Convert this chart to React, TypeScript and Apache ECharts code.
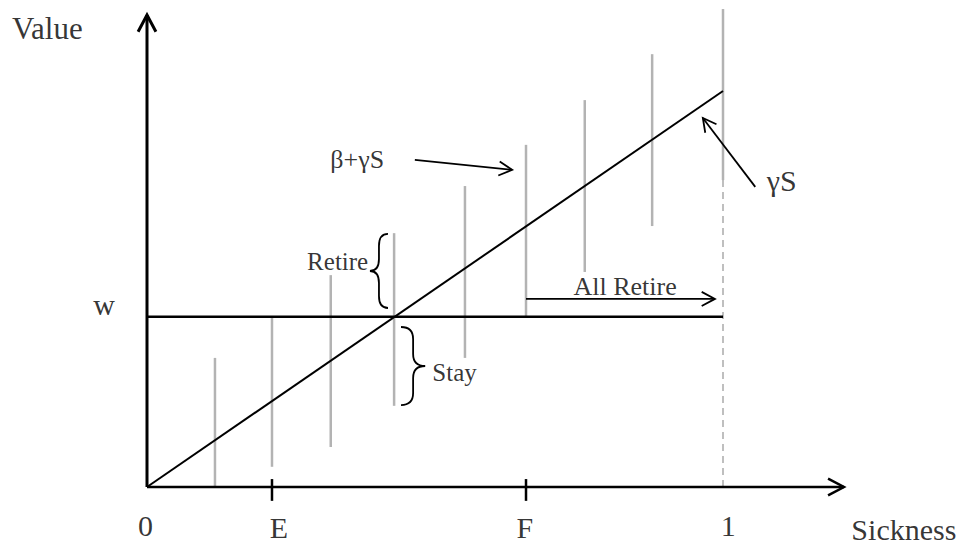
import React, { useEffect, useRef } from "react";
import * as echarts from "echarts";

// ---- data (x: sickness 0..1, y: value where γS at S=1 equals 100) ----
const E_POS = 0.217;
const F_POS = 0.658;
const W_LEVEL = 43;

const diagonalX = [0, 1];
const diagonalY = [0, 100];

const wLineX = [0, 1];

const barX = [0.118, E_POS, 0.319, 0.429, 0.552, F_POS, 0.76, 0.877, 1];
const barLow = [0, 5.1, 10.1, 20.5, 32.6, W_LEVEL, 54.3, 65.9, 77.5];
const barHigh = [32.6, W_LEVEL, 53.5, 64.1, 76, 86.4, 97.7, 109.3, 120.7];

const xTickValues = [E_POS, F_POS];
const tickTop = 2.0;
const tickBottom = -3.5;

const yAxisArrow = [[0, 0, 0, 119.2]];
const xAxisArrow = [[0, 0, 1.21, 0]];
const noteArrows = [
  [0.465, 82.6, 0.634, 80.1],
  [1.056, 75.8, 0.965, 93.2],
  [0.658, 47.5, 0.986, 47.5],
];

// braces: [x of ends, x of tip, y top, y bottom]
const braces = [
  [0.4184, 0.387, 63.9, 45.2],
  [0.441, 0.483, 40.4, 20.7],
];

const labelText = ["Value", "w", "0", "E", "F", "1", "Sickness", "β+γS", "γS", "Retire", "Stay", "All Retire"];
const labelX = [-0.173, -0.0747, -0.0026, 0.229, 0.656, 1.009, 1.314, 0.365, 1.102, 0.331, 0.534, 0.83];
const labelY = [115.8, 46.0, -9.6, -10.2, -10.2, -9.6, -10.8, 82.8, 77.5, 56.9, 29.0, 50.6];

// ---- layout ----
const ORIGIN_X = 147;
const ORIGIN_Y = 487;
const PX_PER_X = 576;
const PX_PER_Y = 3.96;
const X_MIN = -0.25;
const X_MAX = 1.4;
const Y_MIN = -14;
const Y_MAX = 122;
const WIDTH = 962;
const HEIGHT = 546;

const FONT = "'Liberation Serif', 'Times New Roman', serif";
const GRAY = "#b3b3b3";

const fontSizes: Record<string, number> = {
  Value: 31,
  w: 30,
  "0": 30,
  E: 30,
  F: 30,
  "1": 30,
  Sickness: 30,
  "β+γS": 26,
  "γS": 30,
  Retire: 25,
  Stay: 25,
  "All Retire": 26,
};

function arrowSeries(data: number[][], lineWidth: number, head: number, z: number) {
  return {
    type: "custom",
    z,
    silent: true,
    data,
    renderItem: (_params: any, api: any) => {
      const p1 = api.coord([api.value(0), api.value(1)]);
      const p2 = api.coord([api.value(2), api.value(3)]);
      const ang = Math.atan2(p2[1] - p1[1], p2[0] - p1[0]);
      const th = (28 * Math.PI) / 180;
      const a1 = [p2[0] - head * Math.cos(ang - th), p2[1] - head * Math.sin(ang - th)];
      const a2 = [p2[0] - head * Math.cos(ang + th), p2[1] - head * Math.sin(ang + th)];
      return {
        type: "group",
        children: [
          {
            type: "line",
            shape: { x1: p1[0], y1: p1[1], x2: p2[0], y2: p2[1] },
            style: { stroke: "#000", lineWidth },
          },
          {
            type: "polyline",
            shape: { points: [a1, p2, a2] },
            style: { stroke: "#000", lineWidth, fill: "none" },
          },
        ],
      };
    },
  };
}

export default function App() {
  const ref = useRef<HTMLDivElement>(null);

  useEffect(() => {
    if (!ref.current) return;
    const chart = echarts.init(ref.current, undefined, { renderer: "svg" });

    const gridLeft = ORIGIN_X + X_MIN * PX_PER_X;
    const gridRight = WIDTH - (ORIGIN_X + X_MAX * PX_PER_X);
    const gridTop = ORIGIN_Y - Y_MAX * PX_PER_Y;
    const gridBottom = HEIGHT - (ORIGIN_Y - Y_MIN * PX_PER_Y);

    const hiddenAxis = {
      type: "value" as const,
      axisLine: { show: false },
      axisTick: { show: false },
      axisLabel: { show: false },
      splitLine: { show: false },
    };

    const option: any = {
      animation: false,
      backgroundColor: "#fff",
      grid: { left: gridLeft, right: gridRight, top: gridTop, bottom: gridBottom },
      xAxis: { ...hiddenAxis, min: X_MIN, max: X_MAX },
      yAxis: { ...hiddenAxis, min: Y_MIN, max: Y_MAX },
      series: [
        {
          type: "custom",
          name: "bars",
          z: 1,
          silent: true,
          data: barX.map((x, i) => [x, barLow[i], barHigh[i]]),
          renderItem: (_p: any, api: any) => {
            const a = api.coord([api.value(0), api.value(1)]);
            const b = api.coord([api.value(0), api.value(2)]);
            return {
              type: "line",
              shape: { x1: a[0], y1: a[1], x2: b[0], y2: b[1] },
              style: { stroke: GRAY, lineWidth: 2.5 },
            };
          },
        },
        {
          type: "line",
          z: 2,
          silent: true,
          symbol: "none",
          data: [
            [1, 0],
            [1, barLow[barLow.length - 1]],
          ],
          lineStyle: { color: "#aaaaaa", width: 1.5, type: [7, 5] },
        },
        {
          type: "line",
          z: 3,
          silent: true,
          symbol: "none",
          data: diagonalX.map((x, i) => [x, diagonalY[i]]),
          lineStyle: { color: "#000", width: 2 },
        },
        {
          type: "line",
          z: 3,
          silent: true,
          symbol: "none",
          data: wLineX.map((x) => [x, W_LEVEL]),
          lineStyle: { color: "#000", width: 2.5 },
        },
        arrowSeries(yAxisArrow, 3, 19, 4),
        arrowSeries(xAxisArrow, 2.5, 18, 4),
        arrowSeries(noteArrows, 1.8, 15, 4),
        {
          type: "custom",
          z: 4,
          silent: true,
          data: xTickValues.map((x) => [x, tickTop, tickBottom]),
          renderItem: (_p: any, api: any) => {
            const a = api.coord([api.value(0), api.value(1)]);
            const b = api.coord([api.value(0), api.value(2)]);
            return {
              type: "line",
              shape: { x1: a[0], y1: a[1], x2: b[0], y2: b[1] },
              style: { stroke: "#000", lineWidth: 2.5 },
            };
          },
        },
        {
          type: "custom",
          z: 4,
          silent: true,
          data: braces,
          renderItem: (_p: any, api: any) => {
            const top = api.coord([api.value(0), api.value(2)]);
            const bot = api.coord([api.value(0), api.value(3)]);
            const tip = api.coord([api.value(1), 0]);
            const x0 = top[0];
            const xt = tip[0];
            const yt = top[1];
            const yb = bot[1];
            const ym = (yt + yb) / 2;
            const xm = (x0 + xt) / 2;
            const r = Math.min(12, (yb - yt) / 4);
            const d =
              `M${x0},${yt} Q${xm},${yt} ${xm},${yt + r} L${xm},${ym - r} ` +
              `Q${xm},${ym} ${xt},${ym} Q${xm},${ym} ${xm},${ym + r} ` +
              `L${xm},${yb - r} Q${xm},${yb} ${x0},${yb}`;
            return {
              type: "path",
              shape: { pathData: d },
              style: { stroke: "#000", lineWidth: 1.8, fill: "none" },
            };
          },
        },
        {
          type: "scatter",
          z: 5,
          silent: true,
          clip: false,
          symbolSize: 1,
          itemStyle: { color: "rgba(0,0,0,0)" },
          data: labelText.map((t, i) => ({
            name: t,
            value: [labelX[i], labelY[i]],
            label: { fontSize: fontSizes[t] ?? 26 },
          })),
          label: {
            show: true,
            position: "inside",
            formatter: "{b}",
            color: "#000",
            fontFamily: FONT,
            align: "center",
            verticalAlign: "middle",
          },
        },
      ],
    };

    chart.setOption(option);
    return () => chart.dispose();
  }, []);

  return (
    <div
      ref={ref}
      style={{ position: "absolute", left: 0, top: 0, width: WIDTH, height: HEIGHT, background: "#fff" }}
    />
  );
}
